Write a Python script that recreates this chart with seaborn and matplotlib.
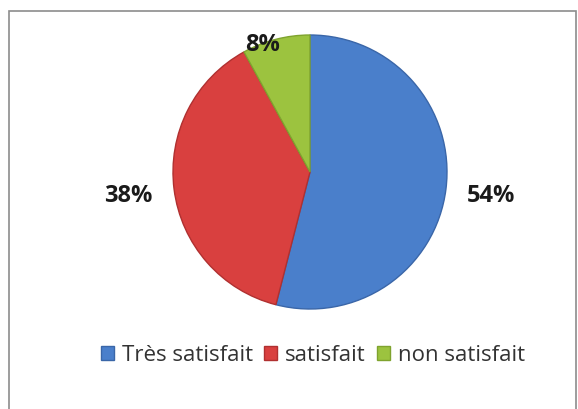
import matplotlib
matplotlib.use("Agg")
import matplotlib.pyplot as plt
import seaborn as sns
import numpy as np
from matplotlib.patches import Rectangle

# Data
categories = ["Très satisfait", "satisfait", "non satisfait"]
values = [54, 38, 8]
colors = ["#4a7fcb", "#d9403f", "#9cc33f"]
edge_colors = ["#3a66a8", "#b03030", "#7fa32e"]
label_radius = [1.33, 1.34, 1.0]

sns.set_theme(style="white")
plt.rcParams["font.family"] = ["Open Sans", "DejaVu Sans"]

fig = plt.figure(figsize=(5.78, 4.10), dpi=100)
fig.patch.set_facecolor("white")

# outer frame
fig.patches.append(Rectangle((9 / 578, -0.02), 567 / 578, 1 - 12 / 410 + 0.02,
                             transform=fig.transFigure, fill=False,
                             edgecolor="#8c8c8c", linewidth=1.2))

ax = fig.add_axes([173 / 578, 100 / 410, 274 / 578, 274 / 410])
wedges, _ = ax.pie(values, colors=colors, startangle=90, counterclock=False,
                   wedgeprops=dict(linewidth=1.0))
for w, ec in zip(wedges, edge_colors):
    w.set_edgecolor(ec)

# percentage labels
for w, v, r in zip(wedges, values, label_radius):
    mid = np.deg2rad((w.theta1 + w.theta2) / 2)
    if r < 1.1:
        mid = np.deg2rad((w.theta1 + w.theta2) / 2 + 6)
    ax.text(r * np.cos(mid), r * np.sin(mid), f"{v}%", ha="center", va="center",
            fontsize=17, fontweight="bold", color="#1a1a1a")
ax.set_aspect("equal")
ax.set_xlim(-1, 1)
ax.set_ylim(-1, 1)
ax.axis("off")

fig.legend(wedges, categories, loc="center", bbox_to_anchor=(313 / 578, 1 - 356 / 410),
           ncol=3, frameon=False, fontsize=16, handlelength=0.6, handleheight=0.6,
           handletextpad=0.35, columnspacing=0.5, labelcolor="#333333")

fig.savefig("out.png", dpi=100)
